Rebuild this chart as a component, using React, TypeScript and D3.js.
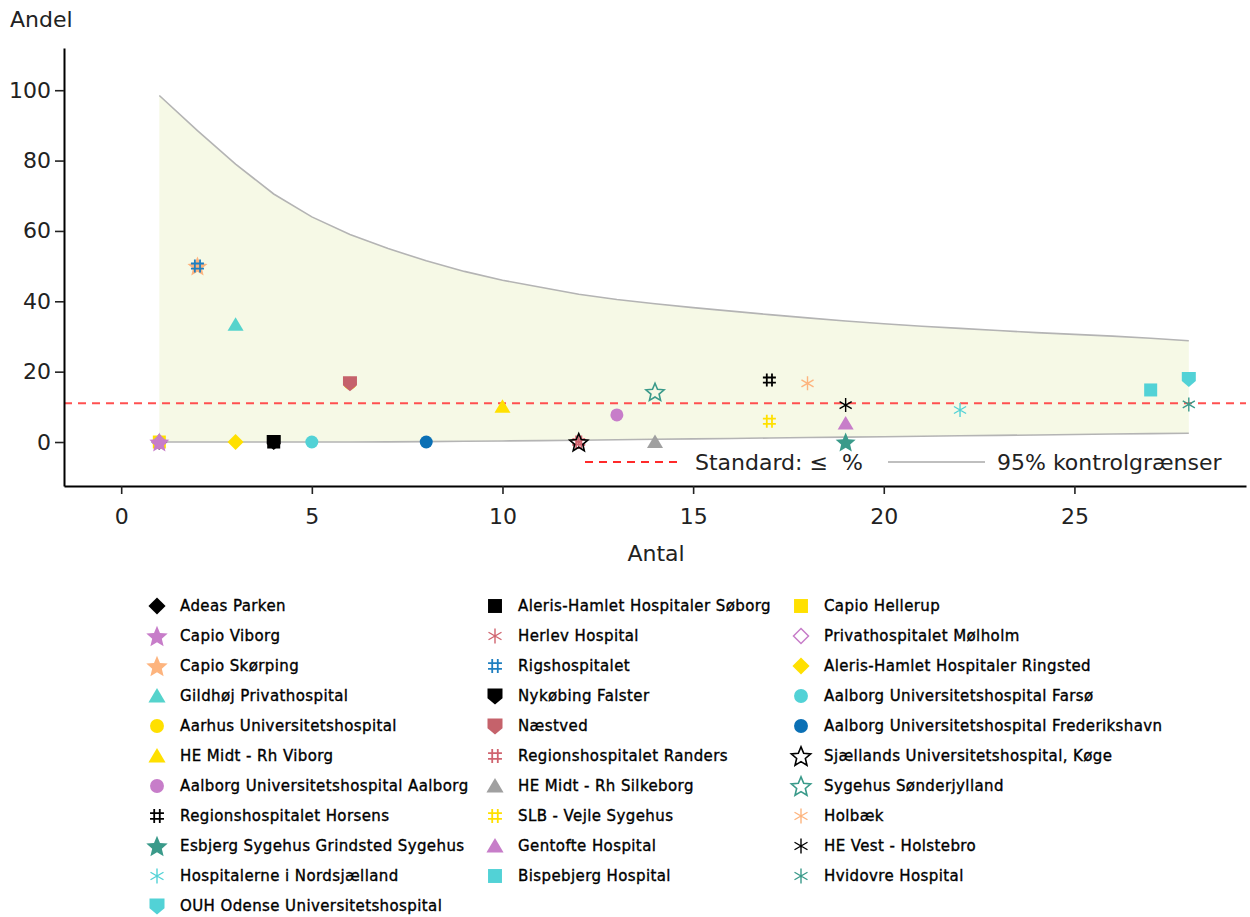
import React, { useEffect, useRef } from "react";
import * as d3 from "d3";

// ---------- data ----------
const hospitals = [
  "Adeas Parken", "Aleris-Hamlet Hospitaler Søborg", "Capio Hellerup",
  "Capio Viborg", "Herlev Hospital", "Privathospitalet Mølholm",
  "Capio Skørping", "Rigshospitalet", "Aleris-Hamlet Hospitaler Ringsted",
  "Gildhøj Privathospital", "Nykøbing Falster", "Aalborg Universitetshospital Farsø",
  "Aarhus Universitetshospital", "Næstved", "Aalborg Universitetshospital Frederikshavn",
  "HE Midt - Rh Viborg", "Regionshospitalet Randers", "Sjællands Universitetshospital, Køge",
  "Aalborg Universitetshospital Aalborg", "HE Midt - Rh Silkeborg", "Sygehus Sønderjylland",
  "Regionshospitalet Horsens", "SLB - Vejle Sygehus", "Holbæk",
  "Esbjerg Sygehus Grindsted Sygehus", "Gentofte Hospital", "HE Vest - Holstebro",
  "Hospitalerne i Nordsjælland", "Bispebjerg Hospital", "Hvidovre Hospital",
  "OUH Odense Universitetshospital",
];
const antal = [
  1, 4, 1,
  1, 12, 1,
  2, 2, 3,
  3, 4, 5,
  6, 6, 8,
  10, 12, 12,
  13, 14, 14,
  17, 17, 18,
  19, 19, 19,
  22, 27, 28,
  28,
];
const andel = [
  0, 0, 0,
  0, 0, 0,
  50, 50, 0,
  33.3, 0, 0,
  16.7, 16.7, 0,
  10, 0, 0,
  7.7, 0, 14.3,
  17.6, 5.9, 16.7,
  0, 5.3, 10.5,
  9.1, 14.8, 10.7,
  17.9,
];
const markerShapes = [
  "diamond", "square", "square",
  "star", "asterisk", "diamondOpen",
  "star", "hash", "diamond",
  "triangle", "shield", "circle",
  "circle", "shield", "circle",
  "triangle", "hash", "starOpen",
  "circle", "triangle", "starOpen",
  "hash", "hash", "asterisk",
  "star", "triangle", "asterisk",
  "asterisk", "square", "asterisk",
  "shield",
];
const markerColors = [
  "#000000", "#000000", "#ffe000",
  "#c77dc9", "#d0646f", "#c77dc9",
  "#fdb47e", "#1f7fc0", "#ffe000",
  "#55d3cc", "#000000", "#52d2d6",
  "#ffe000", "#c5626b", "#0b70b5",
  "#ffe000", "#d0646f", "#000000",
  "#c77dc9", "#a0a0a0", "#3a9a8a",
  "#000000", "#ffe000", "#fdb47e",
  "#3a9a8a", "#c77dc9", "#000000",
  "#52d2d6", "#52d2d6", "#3a9a8a",
  "#52d2d6",
];
// 95% control limits
const limitN = [1, 2, 3, 4, 5, 6, 7, 8, 9, 10, 11, 12, 13, 14, 15, 16, 17, 18, 19, 20, 21, 22, 23, 24, 25, 26, 27, 28];
const upperLimit = [98.5, 88.5, 79, 70.5, 64, 59, 55, 51.5, 48.5, 46, 44, 42, 40.5, 39.3, 38.2, 37.2, 36.2, 35.3, 34.4, 33.6, 32.9, 32.3, 31.7, 31.1, 30.6, 30.1, 29.5, 28.8];
const lowerLimit = [0, 0, 0, 0, 0, 0, 0.05, 0.1, 0.2, 0.3, 0.4, 0.5, 0.65, 0.8, 0.9, 1.0, 1.15, 1.3, 1.4, 1.5, 1.65, 1.8, 1.9, 2.0, 2.15, 2.3, 2.4, 2.5];
const standardValue = 11;
const xTicks = [0, 5, 10, 15, 20, 25];
const yTicks = [0, 20, 40, 60, 80, 100];

const FONT = "DejaVu Sans";

function starPath(outer: number, inner: number) {
  let d = "";
  for (let i = 0; i < 10; i++) {
    const r = i % 2 === 0 ? outer : inner;
    const t = -Math.PI / 2 + (i * Math.PI) / 5;
    d += (i === 0 ? "M" : "L") + (r * Math.cos(t)).toFixed(2) + "," + (r * Math.sin(t)).toFixed(2);
  }
  return d + "Z";
}

function drawMarker(g: any, shape: string, color: string, s: number) {
  const k = s / 14;
  if (shape === "circle") {
    g.append("circle").attr("r", 6.5 * k).attr("fill", color);
  } else if (shape === "square") {
    g.append("rect").attr("x", -6.5 * k).attr("y", -6.5 * k).attr("width", 13 * k).attr("height", 13 * k).attr("fill", color);
  } else if (shape === "diamond" || shape === "diamondOpen") {
    const r = shape === "diamond" ? 8 * k : 7 * k;
    g.append("path").attr("d", `M0,${-r}L${r},0L0,${r}L${-r},0Z`)
      .attr("fill", shape === "diamond" ? color : "none")
      .attr("stroke", color).attr("stroke-width", shape === "diamond" ? 0 : 1.5);
  } else if (shape === "triangle") {
    g.append("path").attr("d", `M0,${-7.5 * k}L${8 * k},${6 * k}L${-8 * k},${6 * k}Z`).attr("fill", color);
  } else if (shape === "star" || shape === "starOpen") {
    const filled = shape === "star";
    const R = (filled ? 10.5 : 9.5) * k;
    g.append("path").attr("d", starPath(R, R * 0.45)).attr("transform", `translate(0,${1 * k})`)
      .attr("fill", filled ? color : "none")
      .attr("stroke", color).attr("stroke-width", filled ? 0 : 1.6).attr("stroke-linejoin", "miter");
  } else if (shape === "shield") {
    g.append("path").attr("d", `M${-7 * k},${-7 * k}L${7 * k},${-7 * k}L${7 * k},${2 * k}L0,${8 * k}L${-7 * k},${2 * k}Z`).attr("fill", color);
  } else if (shape === "hash") {
    const a = 2.6 * k, b = 6.5 * k;
    const d = `M${-a},${-b}V${b}M${a},${-b}V${b}M${-b},${-a}H${b}M${-b},${a}H${b}`;
    g.append("path").attr("d", d).attr("stroke", color).attr("stroke-width", 1.8).attr("fill", "none");
  } else if (shape === "asterisk") {
    const r = 7 * k;
    let d = "";
    [90, 30, 150].forEach((deg) => {
      const t = (deg * Math.PI) / 180;
      d += `M${-r * Math.cos(t)},${-r * Math.sin(t)}L${r * Math.cos(t)},${r * Math.sin(t)}`;
    });
    g.append("path").attr("d", d).attr("stroke", color).attr("stroke-width", 1.4).attr("fill", "none");
  }
}

export default function App() {
  const ref = useRef<SVGSVGElement>(null);

  useEffect(() => {
    const svg = d3.select(ref.current);
    svg.selectAll("*").remove();

    const x = d3.scaleLinear().domain([-1.5, 29.5]).range([64, 1246]);
    const y = d3.scaleLinear().domain([-12.5, 112]).range([486, 48]);

    const band = limitN.map((n, i) => ({ n, lo: lowerLimit[i], hi: upperLimit[i] }));

    // control band
    svg.append("path")
      .attr("d", d3.area<any>().x((d) => x(d.n)).y0((d) => y(d.lo)).y1((d) => y(d.hi))(band) as string)
      .attr("fill", "#f6f9e6");
    svg.append("path").attr("d", d3.line<any>().x((d) => x(d.n)).y((d) => y(d.hi))(band) as string)
      .attr("fill", "none").attr("stroke", "#b4b4b4").attr("stroke-width", 1.6);
    svg.append("path").attr("d", d3.line<any>().x((d) => x(d.n)).y((d) => y(d.lo))(band) as string)
      .attr("fill", "none").attr("stroke", "#b4b4b4").attr("stroke-width", 1.6);

    // standard line
    svg.append("line")
      .attr("x1", x(-1.5)).attr("x2", x(29.5))
      .attr("y1", y(standardValue)).attr("y2", y(standardValue))
      .attr("stroke", "#ff5050").attr("stroke-width", 2).attr("stroke-dasharray", "8,6");

    // axes
    const yAxis = svg.append("g").attr("transform", `translate(${x(-1.5)},0)`)
      .call(d3.axisLeft(y).tickValues(yTicks).tickSize(9).tickSizeOuter(0).tickPadding(4));
    const xAxis = svg.append("g").attr("transform", `translate(0,${y(-12.5)})`)
      .call(d3.axisBottom(x).tickValues(xTicks).tickSize(8).tickSizeOuter(0).tickPadding(14));
    [yAxis, xAxis].forEach((ax) => {
      ax.select(".domain").attr("stroke", "#000").attr("stroke-width", 2);
      ax.selectAll(".tick line").attr("stroke", "#222").attr("stroke-width", 1.6);
      ax.selectAll(".tick text").attr("font-family", FONT).attr("font-size", 22).attr("fill", "#222");
    });

    // axis titles
    svg.append("text").attr("x", 10).attr("y", 27).attr("font-family", FONT).attr("font-size", 22).attr("fill", "#222").text("Andel");
    svg.append("text").attr("x", 656).attr("y", 561).attr("text-anchor", "middle").attr("font-family", FONT).attr("font-size", 22).attr("fill", "#222").text("Antal");

    // points
    hospitals.forEach((name, i) => {
      const g = svg.append("g").attr("transform", `translate(${x(antal[i])},${y(andel[i])})`);
      drawMarker(g, markerShapes[i], markerColors[i], 14);
    });

    // in-plot legend
    svg.append("line").attr("x1", 585).attr("x2", 680).attr("y1", 462).attr("y2", 462)
      .attr("stroke", "#ff2a2a").attr("stroke-width", 2).attr("stroke-dasharray", "8,6");
    svg.append("text").attr("x", 695).attr("y", 470).attr("font-family", FONT).attr("font-size", 22).attr("fill", "#222")
      .attr("xml:space", "preserve").style("white-space", "pre").text("Standard: ≤  %");
    svg.append("line").attr("x1", 888).attr("x2", 985).attr("y1", 462).attr("y2", 462)
      .attr("stroke", "#aaaaaa").attr("stroke-width", 1.5);
    svg.append("text").attr("x", 997).attr("y", 470).attr("font-family", FONT).attr("font-size", 22).attr("fill", "#222").text("95% kontrolgrænser");

    // bottom legend (row-major, 3 columns)
    const colX = [157, 495, 801];
    hospitals.forEach((name, i) => {
      const col = i % 3;
      const row = Math.floor(i / 3);
      const cy = 606 + row * 30;
      const g = svg.append("g").attr("transform", `translate(${colX[col]},${cy})`);
      drawMarker(g, markerShapes[i], markerColors[i], 15);
      svg.append("text").attr("x", colX[col] + 23).attr("y", cy + 5)
        .attr("font-family", FONT).attr("font-size", 15)
        .attr("letter-spacing", 0.4)
        .attr("stroke", "#000").attr("stroke-width", 0.35)
        .attr("fill", "#000").text(name);
    });
  }, []);

  return (
    <svg ref={ref} width={1250} height={917}
      style={{ position: "absolute", left: 0, top: 0, background: "#fff" }} />
  );
}
